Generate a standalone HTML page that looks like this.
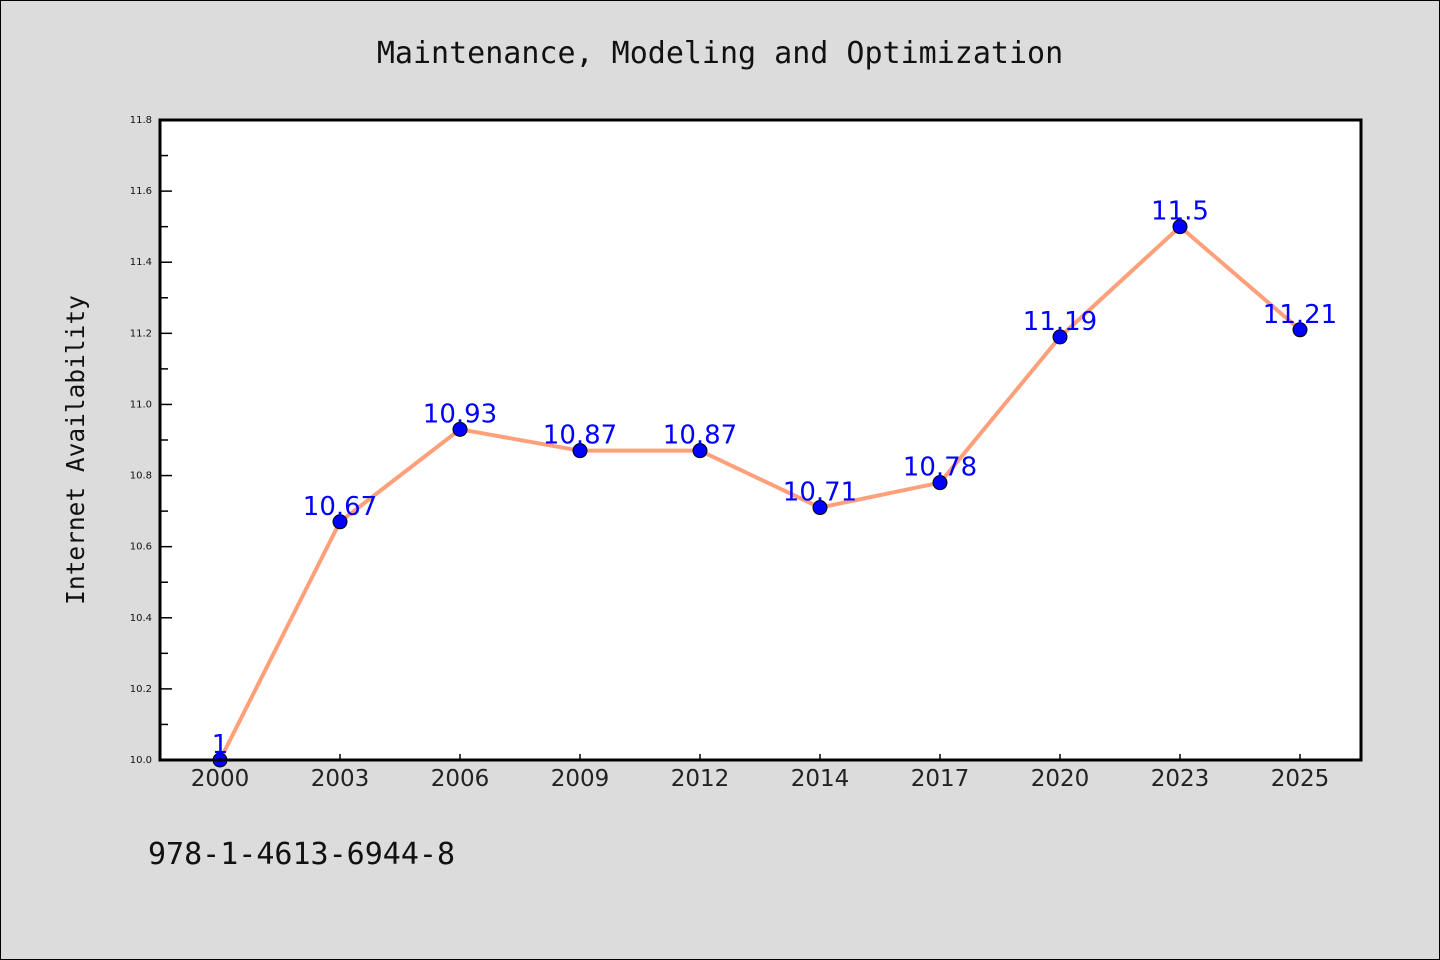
<!DOCTYPE html>
<html><head><meta charset="utf-8"><style>
body{margin:0;background:#dcdcdc;}
svg{display:block;font-family:"DejaVu Sans","Liberation Sans",sans-serif;}
</style></head><body>
<svg id="chart" width="1440" height="960">
<rect x="0.5" y="0.5" width="1439" height="959" fill="#dcdcdc" stroke="#000"/>
<text x="720" y="63" text-anchor="middle" font-family="DejaVu Sans Mono, Liberation Mono, monospace" font-size="30" fill="#111">Maintenance, Modeling and Optimization</text>
<rect x="160" y="120" width="1201" height="640" fill="#fff"/>
<g id="ticks"></g>
<g id="series"></g>
<rect x="160" y="120" width="1201" height="640" fill="none" stroke="#000" stroke-width="3"/>
<text transform="translate(84,450) rotate(-90)" text-anchor="middle" font-family="DejaVu Sans Mono, Liberation Mono, monospace" font-size="24.5" fill="#111">Internet Availability</text>
<text x="148" y="864" font-family="DejaVu Sans Mono, Liberation Mono, monospace" font-size="30" fill="#111">978-1-4613-6944-8</text>
</svg>
<script>
const categories=["2000","2003","2006","2009","2012","2014","2017","2020","2023","2025"];
const values=[10,10.67,10.93,10.87,10.87,10.71,10.78,11.19,11.5,11.21];
const labels=["1","10.67","10.93","10.87","10.87","10.71","10.78","11.19","11.5","11.21"];
const yTicks=["10.0","10.2","10.4","10.6","10.8","11.0","11.2","11.4","11.6","11.8"];
const NS="http://www.w3.org/2000/svg";
const yMin=10,yMax=11.8,plotTop=120,plotBot=760,plotLeft=160,step=120;
const yScale=v=>plotBot-(v-yMin)/(yMax-yMin)*(plotBot-plotTop);
const xScale=i=>plotLeft+60+i*step;
function mk(t,a,p){const e=document.createElementNS(NS,t);for(const k in a)e.setAttribute(k,a[k]);p.appendChild(e);return e;}
const tg=document.getElementById('ticks'),sg=document.getElementById('series');
yTicks.forEach((t,i)=>{
  const v=parseFloat(t),yy=yScale(v);
  const l=mk('line',{x1:plotLeft,x2:plotLeft+12,y1:yy,y2:yy,stroke:'#000','stroke-width':1.5},tg);
  
  
  const tx=mk('text',{x:152,y:yy+3,'text-anchor':'end','font-size':10,fill:'#111'},tg);
  tx.textContent=t;
  
  
  if(i<yTicks.length-1){const ym=yScale(v+0.1);
    const m=mk('line',{x1:plotLeft,x2:plotLeft+8,y1:ym,y2:ym,stroke:'#000','stroke-width':1.5},tg);
    
    }
});
categories.forEach((c,i)=>{
  const l=mk('line',{x1:xScale(i),x2:xScale(i),y1:plotBot,y2:plotBot-6,stroke:'#000','stroke-width':1.5},tg);
  
  
  const tx=mk('text',{x:xScale(i),y:plotBot+26,'text-anchor':'middle','font-size':23,fill:'#222'},tg);
  tx.textContent=c;
  
  
});
const pl=mk('polyline',{points:values.map((v,i)=>xScale(i)+','+yScale(v)).join(' '),fill:'none',stroke:'#ffa07a','stroke-width':4,'stroke-linejoin':'round'},sg);


values.forEach((v,i)=>{
  const c=mk('circle',{cx:xScale(i),cy:yScale(v),r:7,fill:'#0000ff',stroke:'#000','stroke-width':1},sg);
  
  
  const t=mk('text',{x:xScale(i),y:yScale(v)-7,'text-anchor':'middle','font-size':26,fill:'#0000ff'},sg);
  t.textContent=labels[i];
  
  
});
</script>
</body></html>
